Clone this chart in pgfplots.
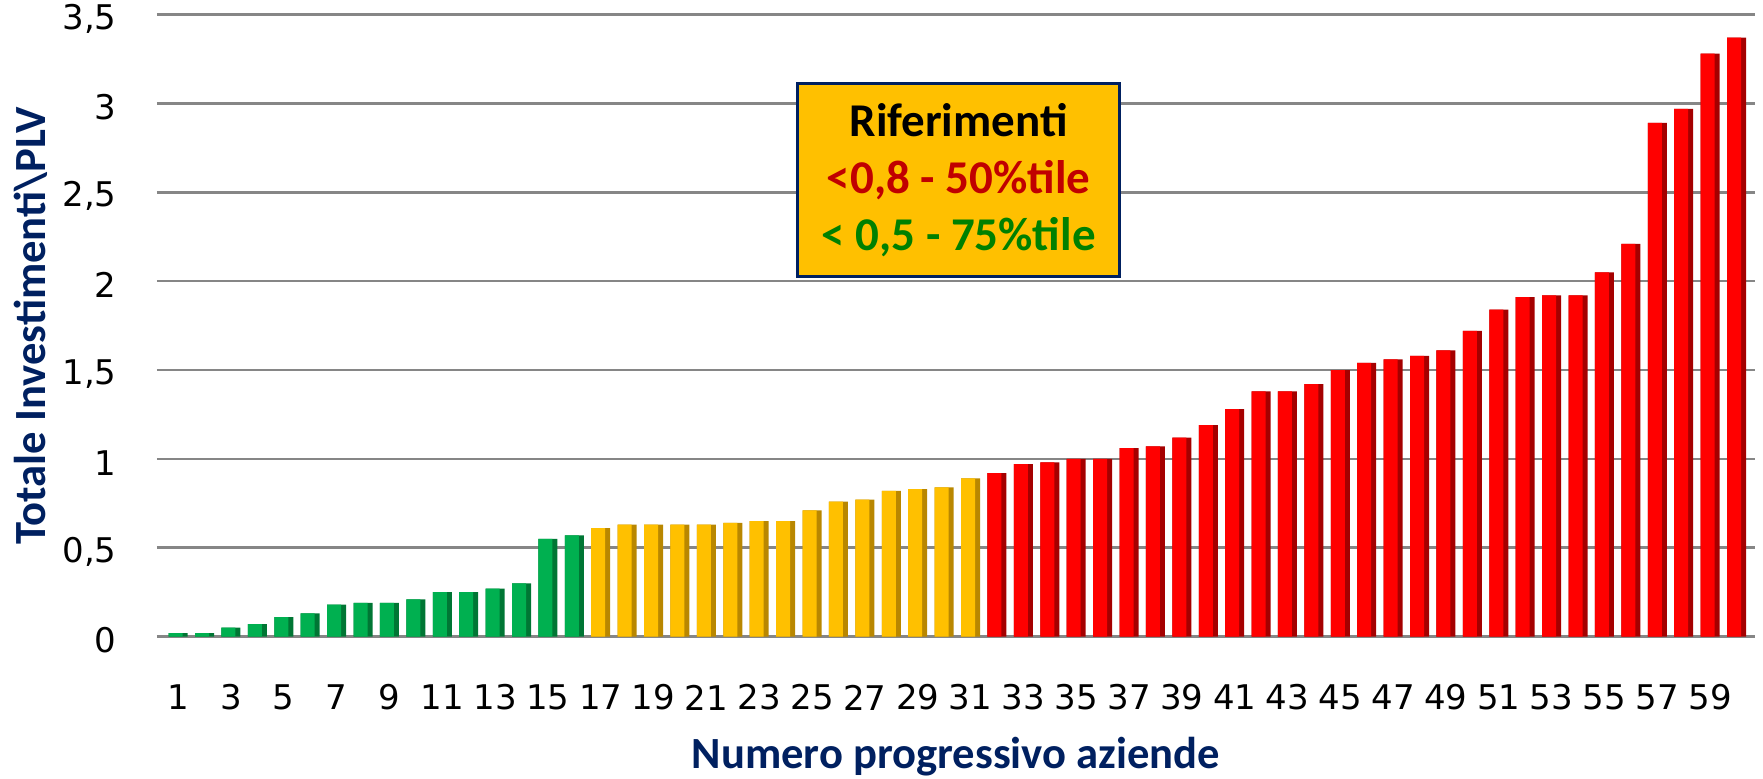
\documentclass[border=0pt]{standalone}
\usepackage{pgfplots}
\pgfplotsset{compat=1.18}
\usepackage{pgfplotstable}
\usepackage{fontspec}
\setmainfont{Carlito}
\newfontfamily\tickfont{DejaVu Sans}
\definecolor{cgreen}{RGB}{0,176,80}
\definecolor{cgreenD}{RGB}{0,118,52}
\definecolor{cyel}{RGB}{255,192,0}
\definecolor{cyelD}{RGB}{185,135,0}
\definecolor{cred}{RGB}{255,0,0}
\definecolor{credD}{RGB}{165,0,0}
\definecolor{navy}{RGB}{0,32,96}
\definecolor{dred}{RGB}{192,0,0}
\definecolor{dgreen}{RGB}{0,128,0}
\definecolor{gridg}{RGB}{134,134,134}
\pgfplotstableread{
x y
1 0.02
2 0.02
3 0.05
4 0.07
5 0.11
6 0.13
7 0.18
8 0.19
9 0.19
10 0.21
11 0.25
12 0.25
13 0.27
14 0.30
15 0.55
16 0.57
}\greendata
\pgfplotstableread{
x y
17 0.61
18 0.63
19 0.63
20 0.63
21 0.63
22 0.64
23 0.65
24 0.65
25 0.71
26 0.76
27 0.77
28 0.82
29 0.83
30 0.84
31 0.89
}\yellowdata
\pgfplotstableread{
x y
32 0.92
33 0.97
34 0.98
35 1.00
36 1.00
37 1.06
38 1.07
39 1.12
40 1.19
41 1.28
42 1.38
43 1.38
44 1.42
45 1.50
46 1.54
47 1.56
48 1.58
49 1.61
50 1.72
51 1.84
52 1.91
53 1.92
54 1.92
55 2.05
56 2.21
57 2.89
58 2.97
59 3.28
60 3.37
}\reddata
\begin{document}
\begin{tikzpicture}
\begin{axis}[
  scale only axis, width=799pt, height=311pt,
  xmin=0.2, xmax=60.7, ymin=0, ymax=3.5,
  axis line style={draw=none}, major tick style={draw=none},
  ymajorgrids, grid style={gridg, line width=1.3pt},
  xtick={1,3,...,59}, ytick={0,0.5,...,3.5},
  /pgf/number format/assume math mode=true,
  yticklabel style={/pgf/number format/use comma, /pgf/number format/fixed, anchor=east, inner sep=0pt, xshift=-20pt, yshift=-2pt},
  xticklabel style={anchor=center, yshift=-30.5pt},
  tick label style={font=\tickfont\fontsize{17}{20}\selectfont},
  xlabel={Numero progressivo aziende},
  ylabel={Totale Investimenti\textbackslash PLV},
  label style={font=\bfseries\fontsize{22.3}{25}\selectfont, text=navy},
  xlabel style={at={(axis description cs:0.5,0)}, anchor=center, yshift=-60pt},
  ylabel style={at={(axis description cs:0,0.5)}, anchor=center, rotate=0, yshift=63pt},
  clip=false,
]
\addplot[ybar, bar width=9.5pt, bar shift=0pt, fill=cgreenD, draw=none] table {\greendata};
\addplot[ybar, bar width=7pt, bar shift=-1.25pt, fill=cgreen, draw=none] table {\greendata};
\addplot[ybar, bar width=9.5pt, bar shift=0pt, fill=cyelD, draw=none] table {\yellowdata};
\addplot[ybar, bar width=7pt, bar shift=-1.25pt, fill=cyel, draw=none] table {\yellowdata};
\addplot[ybar, bar width=9.5pt, bar shift=0pt, fill=credD, draw=none] table {\reddata};
\addplot[ybar, bar width=7pt, bar shift=-1.25pt, fill=cred, draw=none] table {\reddata};
\node[draw=navy, line width=1.2pt, fill=cyel, minimum width=161pt, minimum height=96.5pt, align=center, font=\bfseries\fontsize{23.5}{28.5}\selectfont] at (axis cs:30.55,2.57) {Riferimenti\\ \textcolor{dred}{<0,8 - 50\%tile}\\ \textcolor{dgreen}{< 0,5 - 75\%tile}};
\end{axis}
\pgfresetboundingbox
\path ([xshift=-78.5pt,yshift=-71pt]current axis.south west) rectangle ([xshift=4pt,yshift=7.3pt]current axis.north east);
\end{tikzpicture}
\end{document}
